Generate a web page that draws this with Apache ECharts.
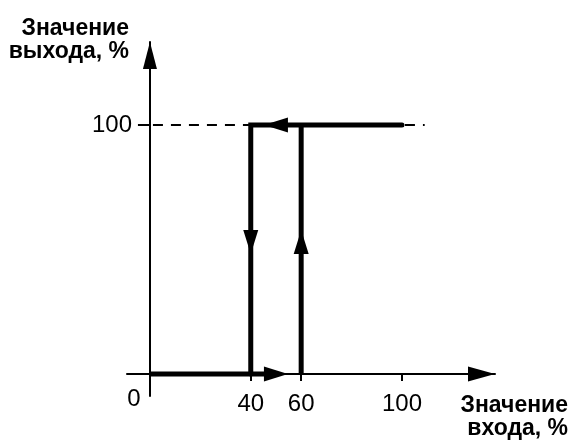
<!DOCTYPE html>
<html>
<head>
<meta charset="utf-8">
<script src="https://cdn.jsdelivr.net/npm/echarts@6/dist/echarts.min.js"></script>
<style>
  html, body { margin: 0; padding: 0; background: #fff; }
  #chart { width: 571px; height: 440px; }
</style>
</head>
<body>
<div id="chart"></div>
<script>
// hysteresis (two-position) characteristic
var lowBranch = [[0, 0], [46, 0]];                 // output 0 while input rises
var fallEdge = [[40, 0], [40, 100], [100, 100]];   // switch off at 40, high branch up to 100
var riseEdge = [[60, 0], [60, 100]];               // switch on at 60
var setLevel = [[0, 100], [109, 100]];             // dashed 100 % level
var arrowPoints = [[50, 0], [50, 100], [40, 53], [60, 53]];
var arrowDirs = ['right', 'left', 'down', 'up'];

var xTicks = [40, 60, 100];
var xLabels = [0, 40, 60, 100];
var yTicks = [100];

var chart = echarts.init(document.getElementById('chart'), null, { renderer: 'canvas' });

var numFont = "'Liberation Sans Narrow', 'Liberation Sans', Arial, sans-serif";
var boldFont = "bold 23px 'Liberation Sans', Arial, sans-serif";
var rot = { up: 0, left: 90, down: 180, right: -90 };

var arrowData = [];
for (var i = 0; i < arrowPoints.length; i++) {
  arrowData.push({ value: arrowPoints[i], symbolRotate: rot[arrowDirs[i]] });
}

var axisLineStyle = { color: '#000', width: 2 };

var option = {
  animation: false,
  backgroundColor: '#fff',
  grid: { left: 127, right: 76, top: 42, bottom: 44, containLabel: false },
  xAxis: {
    type: 'value',
    min: -9.1,
    max: 136.9,
    splitLine: { show: false },
    axisLine: {
      show: true, onZero: true,
      symbol: ['none', 'triangle'],
      symbolSize: [15, 27],
      symbolOffset: [0, -13.5],
      lineStyle: axisLineStyle
    },
    axisTick: { show: true, length: 7, customValues: xTicks, lineStyle: { color: '#000', width: 2 } },
    axisLabel: {
      show: true,
      customValues: xLabels,
      margin: -4,
      color: '#000',
      fontFamily: numFont,
      fontSize: 24,
      formatter: function (v) { return v === 0 ? '{z|0}' : String(v); },
      rich: { z: { fontFamily: numFont, fontSize: 24, lineHeight: 14, color: '#000', padding: [0, 32, 0, 0] } }
    }
  },
  yAxis: {
    type: 'value',
    min: -8.8,
    max: 133.3,
    splitLine: { show: false },
    axisLine: {
      show: true, onZero: true,
      symbol: ['none', 'triangle'],
      symbolSize: [14, 27],
      symbolOffset: [0, -13.5],
      lineStyle: axisLineStyle
    },
    axisTick: { show: true, length: 12, customValues: yTicks, lineStyle: { color: '#000', width: 2 } },
    axisLabel: {
      show: true,
      customValues: yTicks,
      margin: -5,
      color: '#000',
      fontFamily: numFont,
      fontSize: 24
    }
  },
  graphic: [
    {
      type: 'text', x: 129, y: 17,
      style: { text: 'Значение\nвыхода, %', font: boldFont, fill: '#000', align: 'right', lineHeight: 23 }
    },
    {
      type: 'text', x: 568, y: 394,
      style: { text: 'Значение\nвхода, %', font: boldFont, fill: '#000', align: 'right', lineHeight: 23 }
    }
  ],
  series: [
    {
      name: 'level', type: 'line', data: setLevel, symbol: 'none', z: 1,
      lineStyle: { color: '#000', width: 2, type: [10, 8], dashOffset: -3 }
    },
    {
      name: 'low', type: 'line', data: lowBranch, symbol: 'none', z: 3,
      lineStyle: { color: '#000', width: 5, cap: 'butt' }
    },
    {
      name: 'fall', type: 'line', data: fallEdge, symbol: 'none', z: 3,
      lineStyle: { color: '#000', width: 5, cap: 'round', join: 'miter' }
    },
    {
      name: 'rise', type: 'line', data: riseEdge, symbol: 'none', z: 3,
      lineStyle: { color: '#000', width: 5, cap: 'butt' }
    },
    {
      name: 'arrows', type: 'scatter', data: arrowData, z: 4,
      symbol: 'triangle', symbolSize: [15, 24],
      itemStyle: { color: '#000', opacity: 1 }
    }
  ]
};

chart.setOption(option);
window.addEventListener('resize', function () { chart.resize(); });
</script>
</body>
</html>
